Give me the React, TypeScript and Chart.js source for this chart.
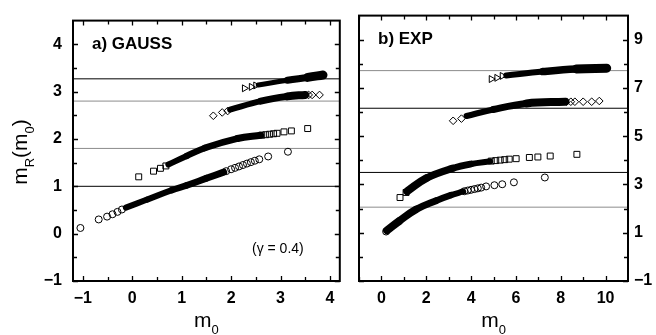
import React, { useEffect, useRef } from "react";
import { Chart, registerables } from "chart.js";

Chart.register(...registerables);

type P = { x: number; y: number };
const pts = (a: number[][]): P[] => a.map(([x, y]) => ({ x, y }));

// ---------------- Panel a) GAUSS ----------------
const gaussXTicks = [-1, -0.5, 0, 0.5, 1, 1.5, 2, 2.5, 3, 3.5, 4];
const gaussXLabels = [-1, 0, 1, 2, 3, 4];
const gaussYTicks = [-1, -0.5, 0, 0.5, 1, 1.5, 2, 2.5, 3, 3.5, 4];
const gaussYLabels = [-1, 0, 1, 2, 3, 4];
const gaussLevels = [3.27, 2.8, 1.8, 1.0];

// open markers (sparse ends of each series)
const gaussCircleOpen = pts([
  [-1.05, 0.12], [-0.68, 0.3], [-0.51, 0.36], [-0.4, 0.41], [-0.3, 0.46], [-0.21, 0.51],
  [1.9, 1.32], [2.0, 1.36], [2.08, 1.39], [2.16, 1.42], [2.24, 1.45], [2.32, 1.48],
  [2.4, 1.51], [2.48, 1.54], [2.57, 1.57], [2.75, 1.63], [3.15, 1.73],
]);
const gaussSquareOpen = pts([
  [0.13, 1.2], [0.43, 1.32], [0.57, 1.38], [0.68, 1.43],
  [2.62, 2.08], [2.7, 2.09], [2.78, 2.1], [2.86, 2.11], [2.93, 2.12],
  [3.07, 2.15], [3.22, 2.17], [3.55, 2.22],
]);
const gaussDiamondOpen = pts([
  [1.64, 2.49], [1.82, 2.56], [1.93, 2.59], [3.5, 2.93], [3.57, 2.93], [3.64, 2.93], [3.79, 2.93],
]);
const gaussTriangleOpen = pts([[2.27, 3.07], [2.41, 3.1], [2.5, 3.13]]);

// dense (overlapping) parts of each series
const gaussCircleDense = pts([
  [-0.13, 0.55], [0.3, 0.72], [0.8, 0.92], [1.1, 1.02], [1.5, 1.17], [1.85, 1.3],
]);
const gaussSquareDense = pts([
  [0.73, 1.46], [1.1, 1.64], [1.47, 1.81], [2.13, 2.01], [2.6, 2.08],
]);
const gaussDiamondDense = pts([[1.98, 2.62], [2.6, 2.8], [3.14, 2.9], [3.5, 2.93]]);
const gaussTriangleDense = pts([[2.55, 3.14], [3.14, 3.24], [3.55, 3.3], [3.86, 3.35]]);

// ---------------- Panel b) EXP ----------------
const expXTicks = [-1, 0, 1, 2, 3, 4, 5, 6, 7, 8, 9, 10];
const expXLabels = [0, 2, 4, 6, 8, 10];
const expYTicks = [-1, 0, 1, 2, 3, 4, 5, 6, 7, 8, 9];
const expYLabels = [-1, 1, 3, 5, 7, 9];
const expLevels = [7.72, 6.16, 3.5, 2.06];

const expCircleOpen = pts([
  [0.21, 1.05], [3.7, 2.72], [3.85, 2.75], [4.0, 2.78], [4.15, 2.81], [4.3, 2.84], [4.45, 2.87],
  [4.67, 2.92], [5.04, 2.97], [5.39, 3.01], [5.91, 3.09], [7.29, 3.29],
]);
const expSquareOpen = pts([
  [0.83, 2.46], [1.1, 2.67], [4.9, 3.97], [5.1, 3.99], [5.3, 4.01], [5.5, 4.03], [5.7, 4.05],
  [6.01, 4.07], [6.6, 4.12], [6.98, 4.14], [7.53, 4.18], [8.72, 4.25],
]);
const expDiamondOpen = pts([
  [3.2, 5.64], [3.57, 5.73], [8.25, 6.43], [8.45, 6.43], [8.63, 6.43], [9.0, 6.43],
  [9.38, 6.43], [9.72, 6.46],
]);
const expTriangleOpen = pts([[4.9, 7.37], [5.15, 7.42], [5.39, 7.5]]);

const expCircleDense = pts([
  [0.25, 1.1], [0.8, 1.49], [1.55, 1.97], [2.44, 2.33], [3.1, 2.56], [3.65, 2.71],
]);
const expSquareDense = pts([
  [1.15, 2.72], [2.0, 3.26], [3.18, 3.67], [4.0, 3.85], [4.85, 3.96],
]);
const expDiamondDense = pts([[3.8, 5.84], [4.99, 6.11], [6.47, 6.36], [8.2, 6.43]]);
const expTriangleDense = pts([[5.57, 7.52], [7.2, 7.68], [8.69, 7.79], [10.05, 7.82]]);

// ---------------- styling ----------------
const FONT = "'Liberation Sans', Arial, Helvetica, sans-serif";
const DARK = "#000000";
const LIGHT = "#8c8c8c";

type PanelSpec = {
  xMin: number; xMax: number; yMin: number; yMax: number;
  xTicks: number[]; xLabels: number[]; yTicks: number[]; yLabels: number[];
  levels: number[]; levelColors: string[];
  open: { data: P[]; style: string; radius: number; rotation?: number }[];
  dense: { data: P[]; w0: number; w1: number }[];
  label: string; note?: string; yTitle: boolean; yPos: "left" | "right";
  pad: { left: number; right: number }; yAxisWidth: number; yPadding: number;
};

const fmt = (v: number) => (v < 0 ? "\u2212" + Math.abs(v) : String(v));

function drawSubText(ctx: CanvasRenderingContext2D, parts: [string, boolean][], x: number, y: number) {
  let cx = x;
  for (const [t, sub] of parts) {
    ctx.font = sub ? `13px ${FONT}` : `21px ${FONT}`;
    ctx.fillText(t, cx, sub ? y + 7 : y);
    cx += ctx.measureText(t).width;
  }
}
function measureSubText(ctx: CanvasRenderingContext2D, parts: [string, boolean][]) {
  let w = 0;
  for (const [t, sub] of parts) {
    ctx.font = sub ? `13px ${FONT}` : `21px ${FONT}`;
    w += ctx.measureText(t).width;
  }
  return w;
}

function makeConfig(s: PanelSpec): any {
  const datasets: any[] = [];
  s.open.forEach((o) =>
    datasets.push({
      data: o.data,
      pointStyle: o.style,
      pointRadius: o.radius,
      pointRotation: o.rotation ?? 0,
      pointBorderColor: "#000",
      pointBackgroundColor: "rgba(0,0,0,0)",
      pointBorderWidth: 1,
      showLine: false,
    })
  );
  s.dense.forEach((d) => {
    const n = d.data.length;
    datasets.push({
      type: "line",
      data: d.data,
      borderColor: "#000",
      borderWidth: d.w0,
      borderCapStyle: "round",
      borderJoinStyle: "round",
      tension: 0.4,
      pointRadius: 0,
      fill: false,
      segment: {
        borderWidth: (c: any) => d.w0 + ((d.w1 - d.w0) * c.p0DataIndex) / Math.max(1, n - 2),
      },
    });
  });
  s.levels.forEach((lv, i) =>
    datasets.push({
      type: "line",
      data: [{ x: s.xMin, y: lv }, { x: s.xMax, y: lv }],
      borderColor: s.levelColors[i],
      borderWidth: 1,
      pointRadius: 0,
      fill: false,
    })
  );

  const decor = {
    id: "decor",
    afterDraw(chart: any) {
      const { ctx, chartArea: a, scales } = chart;
      const xs = scales.x, ys = scales.y;
      ctx.save();
      ctx.strokeStyle = "#000";
      ctx.lineWidth = 1.3;
      ctx.beginPath();
      s.xTicks.forEach((v) => {
        const px = Math.round(xs.getPixelForValue(v)) + 0.5;
        const L = s.xLabels.includes(v) ? 5 : 4;
        ctx.moveTo(px, a.bottom); ctx.lineTo(px, a.bottom - L);
        ctx.moveTo(px, a.top); ctx.lineTo(px, a.top + L);
      });
      s.yTicks.forEach((v) => {
        const py = Math.round(ys.getPixelForValue(v)) + 0.5;
        const L = s.yLabels.includes(v) ? 5 : 4;
        ctx.moveTo(a.left, py); ctx.lineTo(a.left + L, py);
        ctx.moveTo(a.right, py); ctx.lineTo(a.right - L, py);
      });
      ctx.stroke();
      ctx.lineWidth = 2;
      ctx.strokeRect(a.left, a.top, a.right - a.left, a.bottom - a.top);

      ctx.fillStyle = "#000";
      ctx.textBaseline = "middle";
      ctx.textAlign = "left";
      ctx.font = `bold 17px ${FONT}`;
      ctx.fillText(s.label, a.left + 19, a.top + 24);
      if (s.note) {
        ctx.font = `14px ${FONT}`;
        ctx.fillText(s.note, a.left + 179, ys.getPixelForValue(0) + 15);
      }
      ctx.textBaseline = "alphabetic";
      const xt: [string, boolean][] = [["m", false], ["0", true]];
      const xw = measureSubText(ctx, xt);
      drawSubText(ctx, xt, (a.left + a.right) / 2 - xw / 2, 327);
      if (s.yTitle) {
        const yt: [string, boolean][] = [["m", false], ["R", true], ["(m", false], ["0", true], [")", false]];
        const yw = measureSubText(ctx, yt);
        ctx.translate(27, 152 + yw / 2);
        ctx.rotate(-Math.PI / 2);
        drawSubText(ctx, yt, 0, 0);
      }
      ctx.restore();
    },
  };

  return {
    type: "scatter",
    data: { datasets },
    plugins: [decor],
    options: {
      responsive: false,
      maintainAspectRatio: false,
      devicePixelRatio: 1,
      animation: false,
      layout: { padding: { top: 12, bottom: 0, left: s.pad.left, right: s.pad.right } },
      plugins: { legend: { display: false }, tooltip: { enabled: false } },
      scales: {
        x: {
          type: "linear",
          min: s.xMin,
          max: s.xMax,
          afterBuildTicks: (sc: any) => { sc.ticks = s.xTicks.map((v) => ({ value: v })); },
          afterFit: (sc: any) => { sc.height = 54; },
          grid: { display: false, drawTicks: false },
          border: { display: false },
          ticks: {
            autoSkip: false, maxRotation: 0, padding: 8, color: "#000",
            font: { family: FONT, size: 16, weight: "bold" },
            callback: (v: number) => (s.xLabels.includes(v) ? fmt(v) : ""),
          },
        },
        y: {
          type: "linear",
          position: s.yPos,
          min: s.yMin,
          max: s.yMax,
          afterBuildTicks: (sc: any) => { sc.ticks = s.yTicks.map((v) => ({ value: v })); },
          afterFit: (sc: any) => { sc.width = s.yAxisWidth; },
          grid: { display: false, drawTicks: false },
          border: { display: false },
          ticks: {
            autoSkip: false, padding: s.yPadding, color: "#000",
            font: { family: FONT, size: 16, weight: "bold" },
            callback: (v: number) => (s.yLabels.includes(v) ? fmt(v) : ""),
          },
        },
      },
    },
  };
}

const gaussSpec: PanelSpec = {
  xMin: -1.2, xMax: 4.2, yMin: -1, yMax: 4.5,
  xTicks: gaussXTicks, xLabels: gaussXLabels, yTicks: gaussYTicks, yLabels: gaussYLabels,
  levels: gaussLevels, levelColors: [DARK, LIGHT, LIGHT, DARK],
  open: [
    { data: gaussCircleOpen, style: "circle", radius: 3.5 },
    { data: gaussSquareOpen, style: "rect", radius: 4.2 },
    { data: gaussDiamondOpen, style: "rectRot", radius: 3.8 },
    { data: gaussTriangleOpen, style: "triangle", radius: 4, rotation: 90 },
  ],
  dense: [
    { data: gaussCircleDense, w0: 6, w1: 7 },
    { data: gaussSquareDense, w0: 6, w1: 7 },
    { data: gaussDiamondDense, w0: 6, w1: 8 },
    { data: gaussTriangleDense, w0: 5, w1: 9 },
  ],
  label: "a) GAUSS", note: "(\u03B3 = 0.4)", yTitle: true, yPos: "left",
  pad: { left: 0, right: 4 }, yAxisWidth: 73, yPadding: 11,
};

const expSpec: PanelSpec = {
  xMin: -1, xMax: 11, yMin: -1, yMax: 10,
  xTicks: expXTicks, xLabels: expXLabels, yTicks: expYTicks, yLabels: expYLabels,
  levels: expLevels, levelColors: [LIGHT, DARK, DARK, LIGHT],
  open: [
    { data: expCircleOpen, style: "circle", radius: 3.5 },
    { data: expSquareOpen, style: "rect", radius: 4.2 },
    { data: expDiamondOpen, style: "rectRot", radius: 3.8 },
    { data: expTriangleOpen, style: "triangle", radius: 4, rotation: 90 },
  ],
  dense: [
    { data: expCircleDense, w0: 8, w1: 6 },
    { data: expSquareDense, w0: 8, w1: 6 },
    { data: expDiamondDense, w0: 6, w1: 8 },
    { data: expTriangleDense, w0: 6, w1: 9 },
  ],
  label: "b) EXP", yTitle: false, yPos: "right",
  pad: { left: 14, right: 0 }, yAxisWidth: 28, yPadding: 6,
};

export default function App() {
  const leftRef = useRef<HTMLCanvasElement>(null);
  const rightRef = useRef<HTMLCanvasElement>(null);
  useEffect(() => {
    const c1 = new Chart(leftRef.current!, makeConfig(gaussSpec));
    const c2 = new Chart(rightRef.current!, makeConfig(expSpec));
    return () => { c1.destroy(); c2.destroy(); };
  }, []);
  return (
    <div style={{ position: "absolute", left: 0, top: 0, width: 656, height: 335, background: "#fff" }}>
      <canvas ref={leftRef} width={345} height={335}
        style={{ position: "absolute", left: 0, top: 0, width: 345, height: 335 }} />
      <canvas ref={rightRef} width={311} height={335}
        style={{ position: "absolute", left: 345, top: 0, width: 311, height: 335 }} />
    </div>
  );
}
